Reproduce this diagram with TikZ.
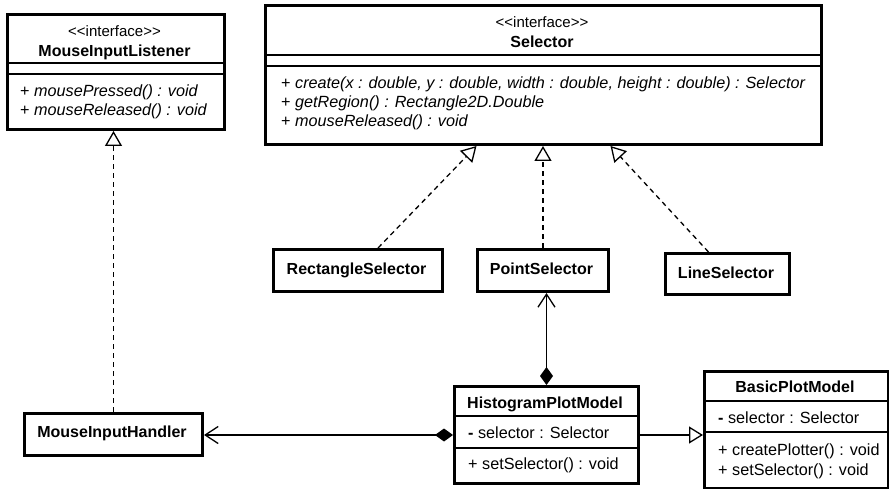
\documentclass[tikz,border=0pt]{standalone}
\usepackage{fontspec}
\setmainfont{Liberation Sans}
\usetikzlibrary{arrows.meta}

\tikzset{
  classbox/.style={draw, line width=3pt, inner sep=0pt, anchor=north west},
  sepline/.style={line width=1.3pt},
  stereo/.style={anchor=base, inner sep=0pt, font=\fontsize{15}{18}\selectfont},
  cname/.style={anchor=base, inner sep=0pt, font=\fontsize{16}{19}\selectfont\bfseries},
  member/.style={anchor=base west, inner sep=0pt, font=\fontsize{16.2}{19}\selectfont},
  realize/.style={line width=1.3pt, dash pattern=on 5pt off 4pt,
    -{Triangle[open,length=15pt,width=17pt]}},
  inherit/.style={line width=1.3pt, -{Triangle[open,length=14pt,width=17pt]}},
  compose/.style={line width=1.3pt,
    {Diamond[length=18pt,width=13pt]}-{Straight Barb[length=13pt,width=17pt]}}
}

\begin{document}
\begin{tikzpicture}[x=1pt,y=-1pt]
  \useasboundingbox (0,0) rectangle (889,489);

  % interface MouseInputListener
  \node[classbox, minimum width=217pt, minimum height=115pt] (listener) at (6,13) {};
  \draw[sepline] (listener.west |- 0,63) -- (listener.east |- 0,63);
  \draw[sepline] (listener.west |- 0,74) -- (listener.east |- 0,74);
  \node[stereo] (listener-st) at (114.5,37) {<\kern0pt<interface>\kern0pt>};
  \node[cname] (listener-nm) at (114.5,57) {MouseInputListener};
  \node[member] (listener-m1) at (20,97) {+ \textit{mousePressed() : void}};
  \node[member] (listener-m2) at (20,116) {+ \textit{mouseReleased() : void}};

  % interface Selector
  \node[classbox, minimum width=556pt, minimum height=139pt] (selector) at (264,4) {};
  \draw[sepline] (selector.west |- 0,55) -- (selector.east |- 0,55);
  \draw[sepline] (selector.west |- 0,66) -- (selector.east |- 0,66);
  \node[stereo] (selector-st) at (542,28) {<\kern0pt<interface>\kern0pt>};
  \node[cname] (selector-nm) at (542,48) {Selector};
  \node[member] (selector-m1) at (281,89) {+ \textit{create(x : double, y : double, width : double, height : double) : Selector}};
  \node[member] (selector-m2) at (281,108) {+ \textit{getRegion() : Rectangle2D.Double}};
  \node[member] (selector-m3) at (281,127) {+ \textit{mouseReleased() : void}};

  % selector implementations
  \node[classbox, minimum width=169pt, minimum height=42pt] (rect) at (272,248) {};
  \node[cname] (rect-nm) at (356.5,274.5) {RectangleSelector};
  \node[classbox, minimum width=131pt, minimum height=42pt] (point) at (476,248) {};
  \node[cname] (point-nm) at (541.5,274.5) {PointSelector};
  \node[classbox, minimum width=124pt, minimum height=41pt] (line) at (664,252) {};
  \node[cname] (line-nm) at (726,278) {LineSelector};

  % MouseInputHandler
  \node[classbox, minimum width=178pt, minimum height=42pt] (handler) at (23,412) {};
  \node[cname] (handler-nm) at (112,437.5) {MouseInputHandler};

  % HistogramPlotModel
  \node[classbox, minimum width=184pt, minimum height=97pt] (histo) at (453,385) {};
  \draw[sepline] (histo.west |- 0,416) -- (histo.east |- 0,416);
  \draw[sepline] (histo.west |- 0,448) -- (histo.east |- 0,448);
  \node[cname] (histo-nm) at (545,408.5) {HistogramPlotModel};
  \node[member] (histo-a1) at (468,438.5) {\textbf{-} selector : Selector};
  \node[member] (histo-m1) at (468,469.5) {+ setSelector() : void};

  % BasicPlotModel
  \node[classbox, minimum width=184pt, minimum height=117pt] (basic) at (703,370) {};
  \draw[sepline] (basic.west |- 0,401) -- (basic.east |- 0,401);
  \draw[sepline] (basic.west |- 0,432) -- (basic.east |- 0,432);
  \node[cname] (basic-nm) at (795,392.5) {BasicPlotModel};
  \node[member] (basic-a1) at (718,423.5) {\textbf{-} selector : Selector};
  \node[member] (basic-m1) at (718,455.5) {+ createPlotter() : void};
  \node[member] (basic-m2) at (718,475.5) {+ setSelector() : void};

  % relations
  \draw[realize] (handler.north) -- (handler.north |- listener.south);
  \draw[realize] ([xshift=20pt]rect.north) -- ([xshift=-67pt]selector.south);
  \draw[realize] (point.north) -- (point.north |- selector.south);
  \draw[realize] ([xshift=-19pt]line.north) -- ([xshift=67pt]selector.south);
  \draw[compose] (histo.north) -- (histo.north |- point.south);
  \draw[compose] (histo.west) -- (histo.west -| handler.east);
  \draw[inherit] (histo.east) -- (histo.east -| basic.west);
\end{tikzpicture}
\end{document}
